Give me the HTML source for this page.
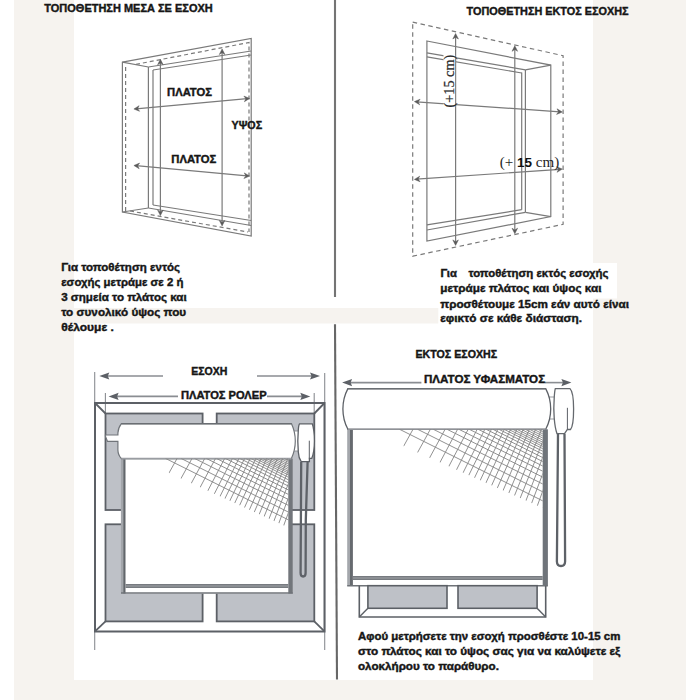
<!DOCTYPE html>
<html><head><meta charset="utf-8"><style>
html,body{margin:0;padding:0;background:#fff;}
body{width:700px;height:700px;overflow:hidden;position:relative;font-family:"Liberation Sans",sans-serif;}
svg{position:absolute;left:0;top:0;}
</style></head><body>
<svg width="700" height="700" viewBox="0 0 700 700">
<rect x="14" y="0" width="672" height="700" fill="#f6f3ef"/>
<rect x="74" y="0" width="519" height="680" fill="#fff"/>
<rect x="560" y="263" width="57" height="35.5" fill="#fff"/>
<rect x="74" y="308" width="364.3" height="15.5" fill="#f6f3ef"/>
<line x1="335" y1="0" x2="335" y2="297" stroke="#747474" stroke-width="2.1"/>
<line x1="335" y1="324.3" x2="337" y2="679.4" stroke="#676767" stroke-width="2.1"/>
<text x="44.3" y="12.0" font-family="Liberation Sans" font-size="10.8" font-weight="bold" fill="#161616" stroke="#161616" stroke-width="0.4" textLength="168.4" lengthAdjust="spacingAndGlyphs" >ΤΟΠΟΘΕΤΗΣΗ ΜΕΣΑ ΣΕ ΕΣΟΧΗ</text>
<text x="466.6" y="14.9" font-family="Liberation Sans" font-size="10.8" font-weight="bold" fill="#161616" stroke="#161616" stroke-width="0.4" textLength="162" lengthAdjust="spacingAndGlyphs" >ΤΟΠΟΘΕΤΗΣΗ ΕΚΤΟΣ ΕΣΟΧΗΣ</text>
<text x="61.2" y="270.6" font-family="Liberation Sans" font-size="11.2" font-weight="bold" fill="#161616" stroke="#161616" stroke-width="0.4" textLength="118.9" lengthAdjust="spacingAndGlyphs" >Για τοποθέτηση εντός</text>
<text x="61.2" y="285.6" font-family="Liberation Sans" font-size="11.2" font-weight="bold" fill="#161616" stroke="#161616" stroke-width="0.4" textLength="122.2" lengthAdjust="spacingAndGlyphs" >εσοχής μετράμε σε 2 ή</text>
<text x="61.2" y="300.8" font-family="Liberation Sans" font-size="11.2" font-weight="bold" fill="#161616" stroke="#161616" stroke-width="0.4" textLength="125.5" lengthAdjust="spacingAndGlyphs" >3 σημεία το πλάτος και</text>
<text x="61.2" y="315.8" font-family="Liberation Sans" font-size="11.2" font-weight="bold" fill="#161616" stroke="#161616" stroke-width="0.4" textLength="125.0" lengthAdjust="spacingAndGlyphs" >το συνολικό ύψος που</text>
<text x="61.2" y="330.8" font-family="Liberation Sans" font-size="11.2" font-weight="bold" fill="#161616" stroke="#161616" stroke-width="0.4" textLength="52.7" lengthAdjust="spacingAndGlyphs" >θέλουμε .</text>
<text x="440.4" y="277" font-family="Liberation Sans" font-size="10.8" font-weight="bold" fill="#161616" stroke="#161616" stroke-width="0.4" textLength="16.5" lengthAdjust="spacingAndGlyphs" >Για</text>
<text x="468.4" y="277" font-family="Liberation Sans" font-size="10.8" font-weight="bold" fill="#161616" stroke="#161616" stroke-width="0.4" textLength="140.1" lengthAdjust="spacingAndGlyphs" >τοποθέτηση εκτός εσοχής</text>
<text x="440.2" y="292.4" font-family="Liberation Sans" font-size="10.8" font-weight="bold" fill="#161616" stroke="#161616" stroke-width="0.4" textLength="161.3" lengthAdjust="spacingAndGlyphs" >μετράμε πλάτος και ύψος και</text>
<text x="440.2" y="307.5" font-family="Liberation Sans" font-size="10.8" font-weight="bold" fill="#161616" stroke="#161616" stroke-width="0.4" textLength="188.8" lengthAdjust="spacingAndGlyphs" >προσθέτουμε 15cm εάν αυτό είναι</text>
<text x="440.2" y="322.2" font-family="Liberation Sans" font-size="10.8" font-weight="bold" fill="#161616" stroke="#161616" stroke-width="0.4" textLength="141.8" lengthAdjust="spacingAndGlyphs" >εφικτό σε κάθε διάσταση.</text>
<text x="358" y="639.6" font-family="Liberation Sans" font-size="10.3" font-weight="bold" fill="#161616" stroke="#161616" stroke-width="0.4" textLength="262.3" lengthAdjust="spacingAndGlyphs" >Αφού μετρήσετε την εσοχή προσθέστε 10-15 cm</text>
<text x="358" y="655.0" font-family="Liberation Sans" font-size="10.3" font-weight="bold" fill="#161616" stroke="#161616" stroke-width="0.4" textLength="262.3" lengthAdjust="spacingAndGlyphs" >στο πλάτος και το ύψος σας για να καλύψετε εξ</text>
<text x="358" y="670.0" font-family="Liberation Sans" font-size="10.3" font-weight="bold" fill="#161616" stroke="#161616" stroke-width="0.4" textLength="140.9" lengthAdjust="spacingAndGlyphs" >ολοκλήρου το παράθυρο.</text>
<path d="M122.4,62.2 L251.2,38.5 L251.2,236 L122.4,212 Z" stroke="#7a7a7a" stroke-width="1.2" fill="none" />
<path d="M125.6,211 L125.6,64.5" stroke="#7a7a7a" stroke-width="1.2" fill="none" stroke-dasharray="4 3"/>
<path d="M130,211 L248,232" stroke="#7a7a7a" stroke-width="1.2" fill="none" stroke-dasharray="4 3"/>
<path d="M136,64.3 L249,42.5 L249,232" stroke="#7a7a7a" stroke-width="1.2" fill="none" stroke-dasharray="4 3"/>
<line x1="122.4" y1="62.2" x2="148.4" y2="67" stroke="#7a7a7a" stroke-width="1.2"/>
<line x1="122.4" y1="212" x2="148.4" y2="208" stroke="#7a7a7a" stroke-width="1.2"/>
<line x1="148.4" y1="67" x2="148.4" y2="208" stroke="#7a7a7a" stroke-width="1.2"/>
<line x1="153" y1="70" x2="153" y2="205" stroke="#7a7a7a" stroke-width="1.2"/>
<line x1="148.4" y1="67" x2="251.2" y2="51" stroke="#7a7a7a" stroke-width="1.2"/>
<line x1="153" y1="70" x2="251.2" y2="55" stroke="#7a7a7a" stroke-width="1.2"/>
<line x1="148.4" y1="208" x2="251.2" y2="225.5" stroke="#7a7a7a" stroke-width="1.2"/>
<line x1="153" y1="205" x2="251.2" y2="220.5" stroke="#7a7a7a" stroke-width="1.2"/>
<line x1="160.4" y1="62" x2="160.4" y2="213" stroke="#7a7a7a" stroke-width="1.2"/>
<path d="M163.2,64.8 L160.4,59.3 L157.6,64.8 L160.4,63.0 Z" fill="#5a5a5a" stroke="#5a5a5a" stroke-width="0.5"/>
<path d="M157.6,210.1 L160.4,215.6 L163.2,210.1 L160.4,211.9 Z" fill="#5a5a5a" stroke="#5a5a5a" stroke-width="0.5"/>
<line x1="222.1" y1="52" x2="222.1" y2="223" stroke="#7a7a7a" stroke-width="1.2"/>
<path d="M224.9,54.5 L222.1,49.0 L219.3,54.5 L222.1,52.7 Z" fill="#5a5a5a" stroke="#5a5a5a" stroke-width="0.5"/>
<path d="M219.3,220.4 L222.1,225.9 L224.9,220.4 L222.1,222.2 Z" fill="#5a5a5a" stroke="#5a5a5a" stroke-width="0.5"/>
<line x1="136" y1="108.8" x2="247" y2="98.6" stroke="#7a7a7a" stroke-width="1.2"/>
<path d="M139.1,105.7 L133.9,109.0 L139.6,111.3 L137.6,108.7 Z" fill="#5a5a5a" stroke="#5a5a5a" stroke-width="0.5"/>
<path d="M244.4,101.7 L249.6,98.4 L243.9,96.1 L245.9,98.7 Z" fill="#5a5a5a" stroke="#5a5a5a" stroke-width="0.5"/>
<line x1="136" y1="165.6" x2="247" y2="175.9" stroke="#7a7a7a" stroke-width="1.2"/>
<path d="M139.6,163.1 L133.9,165.5 L139.2,168.7 L137.6,165.7 Z" fill="#5a5a5a" stroke="#5a5a5a" stroke-width="0.5"/>
<path d="M243.9,178.5 L249.6,176.1 L244.3,172.9 L245.9,175.9 Z" fill="#5a5a5a" stroke="#5a5a5a" stroke-width="0.5"/>
<text x="167.1" y="95.7" font-family="Liberation Sans" font-size="10.7" font-weight="bold" fill="#161616" stroke="#161616" stroke-width="0.4" textLength="44.8" lengthAdjust="spacingAndGlyphs" >ΠΛΑΤΟΣ</text>
<text x="231.5" y="128.7" font-family="Liberation Sans" font-size="10.5" font-weight="bold" fill="#161616" stroke="#161616" stroke-width="0.4" textLength="30.6" lengthAdjust="spacingAndGlyphs" >ΥΨΟΣ</text>
<text x="171.3" y="163" font-family="Liberation Sans" font-size="10.7" font-weight="bold" fill="#161616" stroke="#161616" stroke-width="0.4" textLength="45" lengthAdjust="spacingAndGlyphs" >ΠΛΑΤΟΣ</text>
<path d="M412.7,22.2 L563.1,55.7 L563.1,224.3 L412.7,256.2 Z" stroke="#7a7a7a" stroke-width="1.2" fill="none" stroke-dasharray="4.5 3.5"/>
<path d="M426.9,41 L550.8,65.1 L550.8,216.6 L426.9,241.1 Z" stroke="#7a7a7a" stroke-width="1.2" fill="none" />
<line x1="550.8" y1="65.1" x2="525.4" y2="69.8" stroke="#7a7a7a" stroke-width="1.2"/>
<line x1="525.4" y1="69.8" x2="525.4" y2="212.3" stroke="#7a7a7a" stroke-width="1.2"/>
<line x1="550.8" y1="216.6" x2="525.4" y2="212.3" stroke="#7a7a7a" stroke-width="1.2"/>
<line x1="521.7" y1="72.5" x2="521.7" y2="209.7" stroke="#7a7a7a" stroke-width="1.2"/>
<line x1="426.9" y1="52.8" x2="525.4" y2="69.8" stroke="#7a7a7a" stroke-width="1.2"/>
<line x1="426.9" y1="56.8" x2="521.7" y2="73" stroke="#7a7a7a" stroke-width="1.2"/>
<line x1="426.9" y1="230" x2="525.4" y2="212.3" stroke="#7a7a7a" stroke-width="1.2"/>
<line x1="426.9" y1="224.9" x2="521.7" y2="209.7" stroke="#7a7a7a" stroke-width="1.2"/>
<line x1="455.6" y1="36" x2="455.6" y2="243" stroke="#7a7a7a" stroke-width="1.2"/>
<path d="M458.4,39.0 L455.6,33.5 L452.8,39.0 L455.6,37.2 Z" fill="#5a5a5a" stroke="#5a5a5a" stroke-width="0.5"/>
<path d="M452.8,239.9 L455.6,245.4 L458.4,239.9 L455.6,241.7 Z" fill="#5a5a5a" stroke="#5a5a5a" stroke-width="0.5"/>
<line x1="514.8" y1="48" x2="514.8" y2="231" stroke="#7a7a7a" stroke-width="1.2"/>
<path d="M517.6,51.3 L514.8,45.8 L512.0,51.3 L514.8,49.5 Z" fill="#5a5a5a" stroke="#5a5a5a" stroke-width="0.5"/>
<path d="M512.0,228.2 L514.8,233.7 L517.6,228.2 L514.8,230.0 Z" fill="#5a5a5a" stroke="#5a5a5a" stroke-width="0.5"/>
<line x1="416.5" y1="101.8" x2="560" y2="111.8" stroke="#7a7a7a" stroke-width="1.2"/>
<path d="M420.1,99.2 L414.4,101.6 L419.7,104.8 L418.1,101.9 Z" fill="#5a5a5a" stroke="#5a5a5a" stroke-width="0.5"/>
<path d="M556.6,114.4 L562.3,112.0 L557.0,108.8 L558.6,111.7 Z" fill="#5a5a5a" stroke="#5a5a5a" stroke-width="0.5"/>
<line x1="416.5" y1="179.2" x2="560" y2="169.3" stroke="#7a7a7a" stroke-width="1.2"/>
<path d="M419.7,176.2 L414.4,179.4 L420.1,181.8 L418.1,179.1 Z" fill="#5a5a5a" stroke="#5a5a5a" stroke-width="0.5"/>
<path d="M557.0,172.3 L562.3,169.1 L556.6,166.7 L558.6,169.4 Z" fill="#5a5a5a" stroke="#5a5a5a" stroke-width="0.5"/>
<rect x="443.5" y="55" width="11.6" height="52" fill="#fff"/>
<text transform="translate(453.6,107.4) rotate(-90)" font-family="Liberation Serif" font-size="15" fill="#2a2a2a" stroke="#2a2a2a" stroke-width="0.25" textLength="52.6" lengthAdjust="spacingAndGlyphs">(+15 cm)</text>
<text x="499.7" y="167.3" font-family="Liberation Serif" font-size="14.5" fill="#262626" textLength="59.5" lengthAdjust="spacingAndGlyphs">(+ <tspan font-family="Liberation Sans" font-weight="bold" fill="#111" font-size="13">15</tspan> cm)</text>
<line x1="94.7" y1="372" x2="94.7" y2="650" stroke="#8a8d92" stroke-width="1.1"/>
<line x1="324.7" y1="373" x2="324.7" y2="650" stroke="#8a8d92" stroke-width="1.1"/>
<line x1="105.4" y1="393" x2="105.4" y2="414" stroke="#8a8d92" stroke-width="1.1"/>
<line x1="314.2" y1="393" x2="314.2" y2="414" stroke="#8a8d92" stroke-width="1.1"/>
<line x1="104" y1="376" x2="163" y2="376" stroke="#8a8d92" stroke-width="1.6"/>
<path d="M99.3,376 L109.3,372.4 L107.8,376 L109.3,379.6 Z" fill="#5c6066"/>
<line x1="257" y1="376" x2="314" y2="376" stroke="#8a8d92" stroke-width="1.6"/>
<path d="M320,376 L310,372.4 L311.5,376 L310,379.6 Z" fill="#5c6066"/>
<line x1="113" y1="396.4" x2="178" y2="396.4" stroke="#8a8d92" stroke-width="1.6"/>
<path d="M108.6,396.4 L118.6,392.79999999999995 L117.1,396.4 L118.6,400.0 Z" fill="#5c6066"/>
<line x1="267" y1="396.4" x2="304" y2="396.4" stroke="#8a8d92" stroke-width="1.6"/>
<path d="M310.3,396.4 L300.3,392.79999999999995 L301.8,396.4 L300.3,400.0 Z" fill="#5c6066"/>
<text x="191.2" y="375.1" font-family="Liberation Sans" font-size="10.3" font-weight="bold" fill="#161616" stroke="#161616" stroke-width="0.4" textLength="36.2" lengthAdjust="spacingAndGlyphs" >ΕΣΟΧΗ</text>
<text x="181" y="399" font-family="Liberation Sans" font-size="10.3" font-weight="bold" fill="#161616" stroke="#161616" stroke-width="0.4" textLength="85.6" lengthAdjust="spacingAndGlyphs" >ΠΛΑΤΟΣ ΡΟΛΕΡ</text>
<path d="M95,403 L324.5,403 L324.5,631.4 L95,631.4 Z" stroke="#5c6066" stroke-width="2.0" fill="none" />
<rect x="105.5" y="413.5" width="97.1" height="96.5" fill="#bec1c7" stroke="#5c6066" stroke-width="1.8"/>
<rect x="216.7" y="413.5" width="97.60000000000002" height="96.5" fill="#bec1c7" stroke="#5c6066" stroke-width="1.8"/>
<rect x="105.5" y="524.3" width="97.1" height="97.10000000000002" fill="#bec1c7" stroke="#5c6066" stroke-width="1.8"/>
<rect x="216.7" y="524.3" width="97.60000000000002" height="97.10000000000002" fill="#bec1c7" stroke="#5c6066" stroke-width="1.8"/>
<line x1="95" y1="403" x2="105.5" y2="413.5" stroke="#5c6066" stroke-width="1.8"/>
<line x1="324.5" y1="403" x2="314.3" y2="413.5" stroke="#5c6066" stroke-width="1.8"/>
<line x1="95" y1="631.4" x2="105.5" y2="621.4" stroke="#5c6066" stroke-width="1.8"/>
<line x1="324.5" y1="631.4" x2="314.3" y2="621.4" stroke="#5c6066" stroke-width="1.8"/>
<rect x="121" y="458.6" width="171" height="135" fill="#fff"/>
<rect x="120.9" y="458.6" width="2.3" height="135" fill="#a3a6ab"/>
<rect x="123.2" y="458.6" width="2.3" height="135" fill="#62666b"/>
<rect x="288.3" y="458.6" width="4.4" height="135" fill="#72767b"/>
<rect x="125.5" y="584" width="162.8" height="4" fill="#777b80"/>
<line x1="125.5" y1="586" x2="288.3" y2="586" stroke="#a5a8ac" stroke-width="0.9"/>
<line x1="121" y1="593" x2="292.7" y2="593" stroke="#6f7378" stroke-width="1.4"/>
<path d="M293.5,431 L298.5,431 L298.5,451 L293.5,451 Z" stroke="#8d9095" stroke-width="0.9" fill="#fff" />
<path d="M121.4,458.6 Q118,455 117.9,450 L117.9,441.4 L107.5,441.4 L105.5,436.5 L105.5,435 L117.9,435 L117.9,433 Q118,428 121.4,423.6 L291.4,423.6 Q295.3,432 295.3,441 Q295.3,450 291.4,458.6 Z" stroke="#71757a" stroke-width="1.2" fill="#fff" />
<line x1="121.4" y1="423.8" x2="291.4" y2="423.8" stroke="#6a6e73" stroke-width="1.6"/>
<line x1="121.4" y1="458.6" x2="291.4" y2="458.6" stroke="#9a9da2" stroke-width="1.6"/>
<path d="M299.5,423.8 L312.3,423.8 Q314.4,430 314.4,441 Q314.4,452 311.8,458.3 L309.4,458.3 L309.4,461.7 L301.2,461.7 Q298.6,458 298.3,452 Q297.3,441 298.3,430 Q298.6,425 299.5,423.8 Z" stroke="#5c6066" stroke-width="1.3" fill="#fff" />
<line x1="309.3" y1="440.7" x2="309.3" y2="458.6" stroke="#5c6066" stroke-width="1"/>
<path d="M301.2,462 L300.6,573 Q300.6,576.5 303.1,576.5 Q305.6,576.5 305.6,573 L305.8,520 L307.6,462" stroke="#5e6268" stroke-width="2.3" fill="none" />
<line x1="346" y1="382.6" x2="421.4" y2="382.6" stroke="#8a8d92" stroke-width="1.6"/>
<path d="M342.1,382.6 L352.1,379.0 L350.6,382.6 L352.1,386.20000000000005 Z" fill="#5c6066"/>
<line x1="545" y1="382.6" x2="566" y2="382.6" stroke="#8a8d92" stroke-width="1.6"/>
<path d="M571.4,382.6 L561.4,379.0 L562.9,382.6 L561.4,386.20000000000005 Z" fill="#5c6066"/>
<text x="415.5" y="358.3" font-family="Liberation Sans" font-size="10.8" font-weight="bold" fill="#161616" stroke="#161616" stroke-width="0.4" textLength="81.6" lengthAdjust="spacingAndGlyphs" >ΕΚΤΟΣ ΕΣΟΧΗΣ</text>
<text x="424" y="383.4" font-family="Liberation Sans" font-size="10.8" font-weight="bold" fill="#161616" stroke="#161616" stroke-width="0.4" textLength="121.1" lengthAdjust="spacingAndGlyphs" >ΠΛΑΤΟΣ ΥΦΑΣΜΑΤΟΣ</text>
<rect x="347.2" y="429.3" width="200.7" height="156.4" fill="#fff"/>
<rect x="347.2" y="429.3" width="2.8" height="156.4" fill="#a4a7ac"/>
<rect x="350" y="429.3" width="2.9" height="156.4" fill="#666a6f"/>
<rect x="542.7" y="429.3" width="5.2" height="156.4" fill="#6f747a"/>
<rect x="352.9" y="576" width="189.8" height="4" fill="#777b80"/>
<line x1="352.9" y1="578" x2="542.7" y2="578" stroke="#a5a8ac" stroke-width="0.9"/>
<line x1="347.2" y1="585.7" x2="547.9" y2="585.7" stroke="#6f7378" stroke-width="1.4"/>
<path d="M549,397 L554.5,397 L554.5,419 L549,419 Z" stroke="#8d9095" stroke-width="0.9" fill="#fff" />
<path d="M347.9,388.6 L545.7,388.6 Q550.7,398 550.7,409 Q550.7,420 545.7,429.3 L347.9,429.3 Q342.9,420 342.9,409 Q342.9,398 347.9,388.6 Z" stroke="#5c6066" stroke-width="1.3" fill="#fff" />
<line x1="347.9" y1="388.8" x2="545.7" y2="388.8" stroke="#6a6e73" stroke-width="1.6"/>
<line x1="347.9" y1="429.3" x2="545.7" y2="429.3" stroke="#8f9297" stroke-width="1.6"/>
<path d="M555.3,388.6 L570,388.6 Q573.6,392 573.6,409 Q573.6,426 570.5,429.5 L567.4,429.5 L564.5,433.7 L557,433.7 Q555,428 554.2,418 Q553.4,409 554.2,398 Q554.6,391 555.3,388.6 Z" stroke="#65696e" stroke-width="1.3" fill="#fff" />
<line x1="567.4" y1="407.8" x2="567.4" y2="429.5" stroke="#5c6066" stroke-width="1"/>
<path d="M558,433.7 L556.9,561.5 Q557,566 561,566 Q565,566 565.1,561.5 L564.5,433.7" stroke="#5e6268" stroke-width="2.3" fill="none" />
<path d="M359.3,585.7 L359.3,617 L545.7,617 L545.7,585.7" stroke="#5c6066" stroke-width="1.6" fill="none" />
<rect x="367.9" y="585.7" width="79.10000000000002" height="22.6" fill="#bec1c7" stroke="#5c6066" stroke-width="1.6"/>
<rect x="458" y="585.7" width="79.10000000000002" height="22.6" fill="#bec1c7" stroke="#5c6066" stroke-width="1.6"/>
<line x1="359.3" y1="617" x2="367.9" y2="608.3" stroke="#5c6066" stroke-width="1.4"/>
<line x1="545.7" y1="617" x2="537.1" y2="608.3" stroke="#5c6066" stroke-width="1.4"/>
<clipPath id="m1"><path d="M163.0,458.4 L288.3,458.4 L288.3,527.5 L169.0,473.0 Z"/></clipPath>
<path d="M165.50,458.40 L290.30,520.80 M181.00,458.40 L290.30,513.05 M194.49,458.40 L290.30,506.31 M206.22,458.40 L290.30,500.44 M216.42,458.40 L290.30,495.34 M225.30,458.40 L290.30,490.90 M233.03,458.40 L290.30,487.04 M239.75,458.40 L290.30,483.67 M245.60,458.40 L290.30,480.75 M250.69,458.40 L290.30,478.21 M255.11,458.40 L290.30,475.99 M258.96,458.40 L290.30,474.07 M262.56,458.40 L290.30,472.27 M266.16,458.40 L290.30,470.47 M269.76,458.40 L290.30,468.67 M273.36,458.40 L290.30,466.87 M276.96,458.40 L290.30,465.07 M280.56,458.40 L290.30,463.27 M284.16,458.40 L290.30,461.47 M167.89,475.00 L177.66,457.40 M179.90,480.48 L192.60,457.40 M190.24,485.20 L205.30,457.40 M199.13,489.25 L216.06,457.40 M206.79,492.74 L225.19,457.40 M213.37,495.74 L232.93,457.40 M219.04,498.32 L239.50,457.40 M223.95,500.55 L245.15,457.40 M228.87,502.79 L250.73,457.40 M233.79,505.03 L256.26,457.40 M238.71,507.27 L261.73,457.40 M243.63,509.51 L267.15,457.40 M248.56,511.75 L272.51,457.40 M253.48,513.98 L277.81,457.40 M258.40,516.22 L283.07,457.40 M263.32,518.46 L288.28,457.40 M268.24,520.70 L293.44,457.40 M273.16,522.94 L298.56,457.40 M278.08,525.18 L303.64,457.40 M283.00,527.42 L308.68,457.40 M287.92,529.65 L313.68,457.40" stroke="#858585" stroke-width="0.9" fill="none" clip-path="url(#m1)"/>
<clipPath id="m2"><path d="M397.0,429.3 L542.7,429.3 L542.7,508.0 L403.7,446.2 Z"/></clipPath>
<path d="M399.58,429.30 L544.70,501.86 M417.65,429.30 L544.70,492.83 M433.36,429.30 L544.70,484.97 M447.04,429.30 L544.70,478.13 M458.93,429.30 L544.70,472.18 M469.28,429.30 L544.70,467.01 M478.28,429.30 L544.70,462.51 M486.12,429.30 L544.70,458.59 M492.93,429.30 L544.70,455.18 M498.86,429.30 L544.70,452.22 M504.02,429.30 L544.70,449.64 M508.51,429.30 L544.70,447.40 M512.70,429.30 L544.70,445.30 M516.90,429.30 L544.70,443.20 M521.09,429.30 L544.70,441.10 M525.29,429.30 L544.70,439.00 M529.49,429.30 L544.70,436.91 M533.68,429.30 L544.70,434.81 M537.88,429.30 L544.70,432.71 M402.55,448.15 L413.57,428.30 M416.55,454.37 L430.90,428.30 M428.59,459.72 L445.62,428.30 M438.96,464.32 L458.10,428.30 M447.87,468.28 L468.69,428.30 M455.54,471.68 L477.67,428.30 M462.14,474.61 L485.31,428.30 M467.87,477.15 L491.86,428.30 M473.60,479.69 L498.35,428.30 M479.33,482.23 L504.77,428.30 M485.06,484.77 L511.13,428.30 M490.79,487.31 L517.42,428.30 M496.53,489.85 L523.65,428.30 M502.26,492.39 L529.82,428.30 M507.99,494.93 L535.94,428.30 M513.72,497.47 L542.00,428.30 M519.45,500.01 L548.00,428.30 M525.19,502.55 L553.96,428.30 M530.92,505.09 L559.87,428.30 M536.65,507.63 L565.74,428.30 M542.38,510.17 L571.56,428.30" stroke="#858585" stroke-width="0.9" fill="none" clip-path="url(#m2)"/>
</svg>
</body></html>
